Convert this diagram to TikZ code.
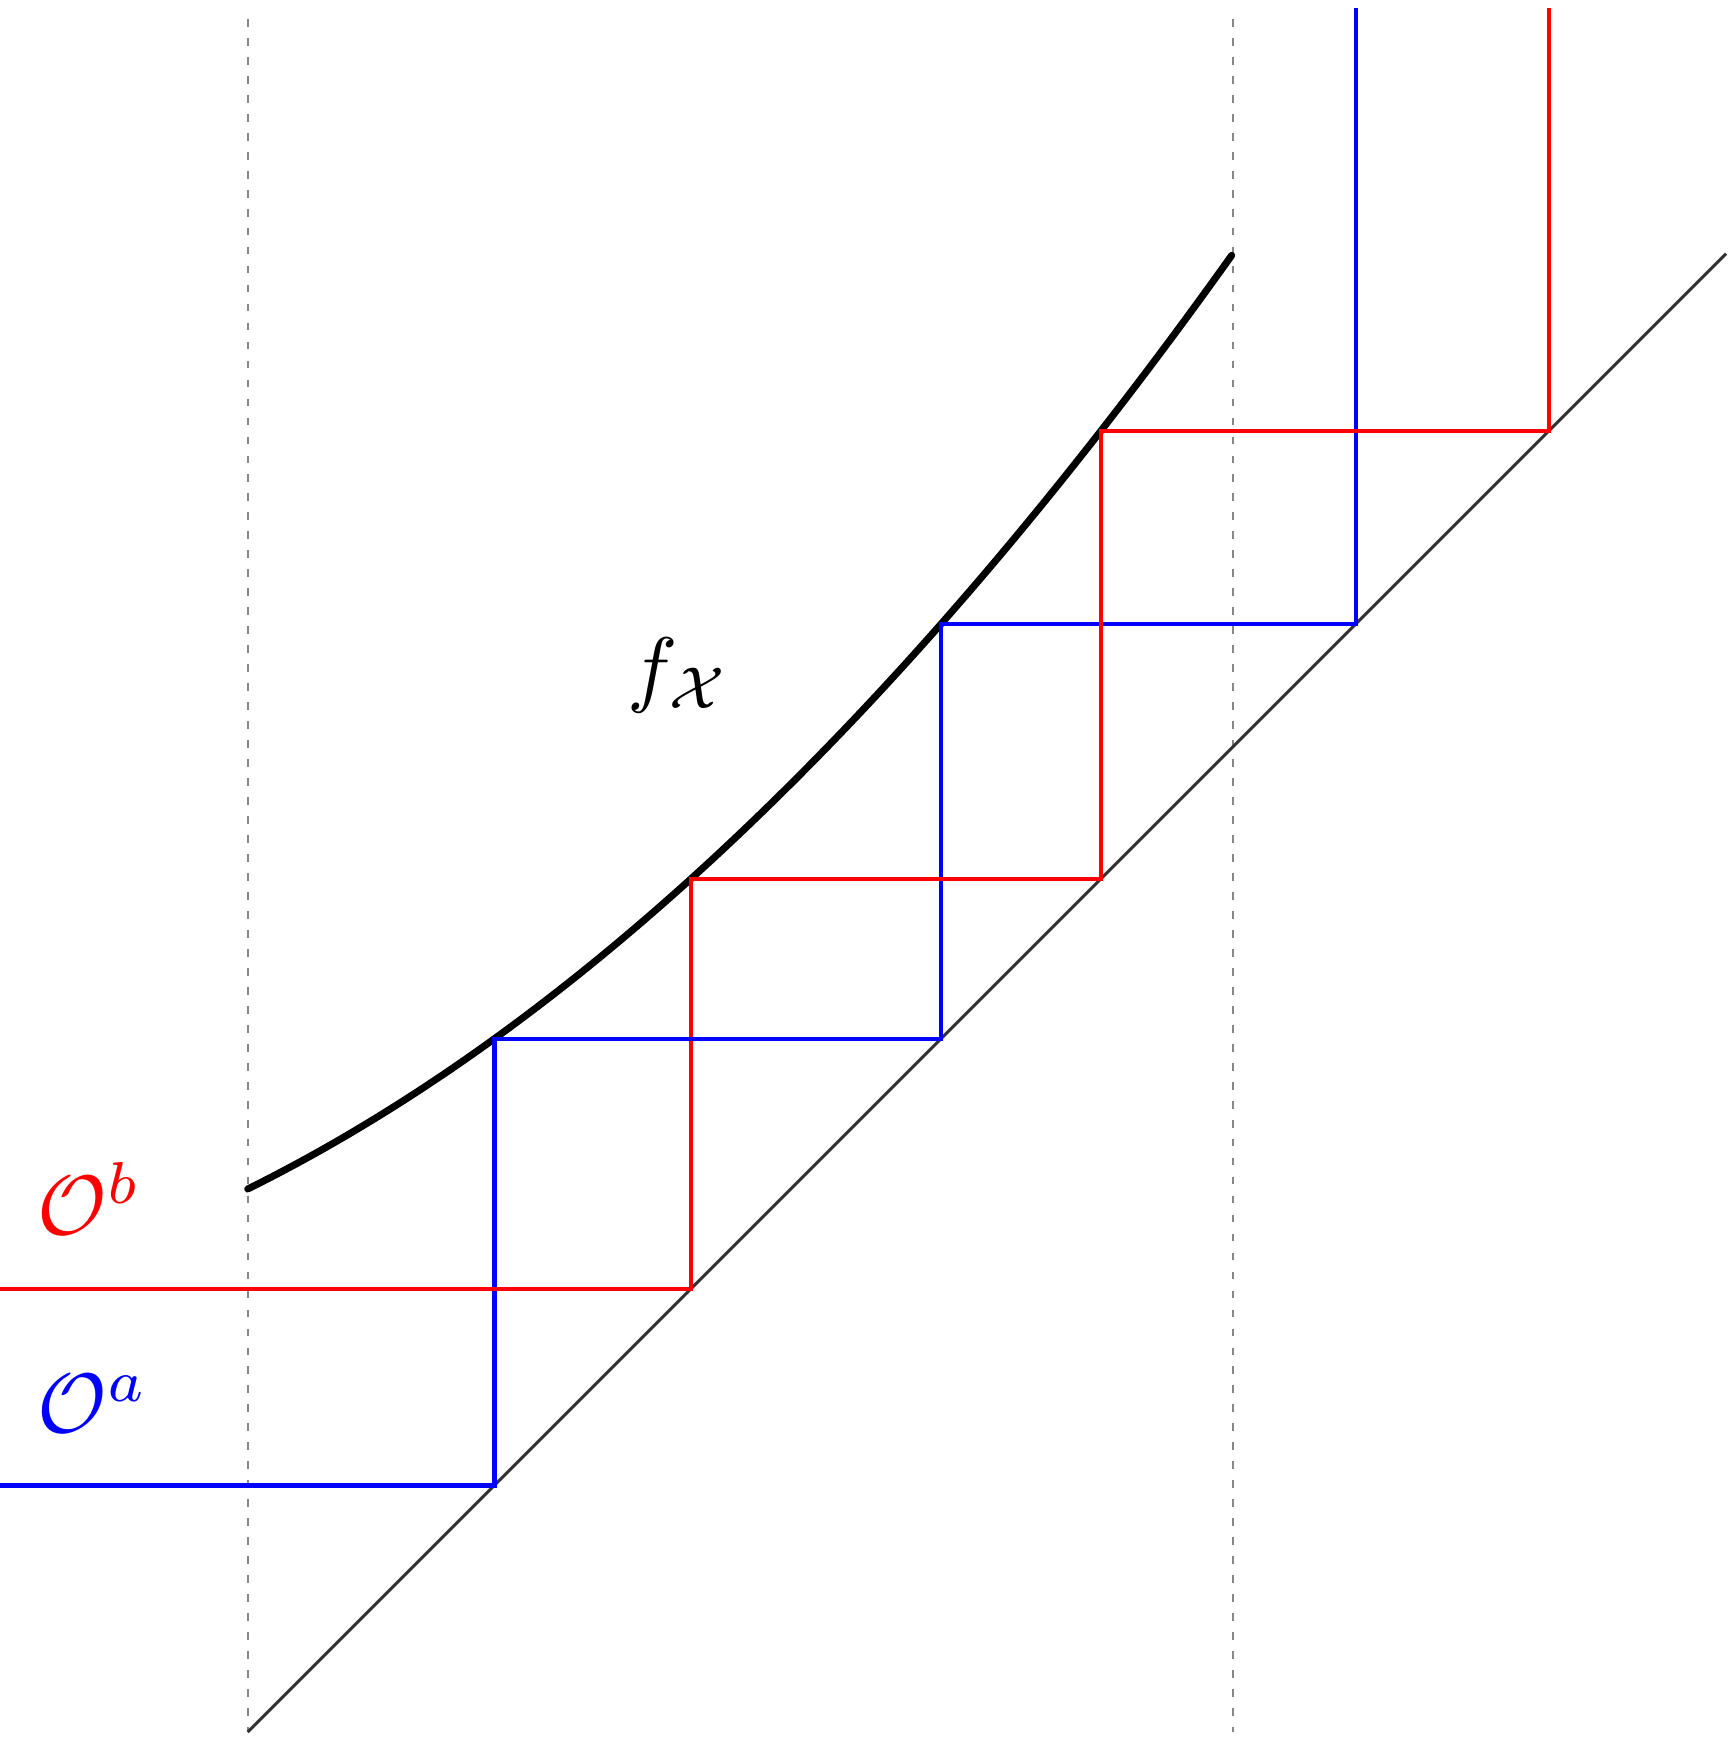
\documentclass[tikz,border=0pt]{standalone}
\begin{document}
\begin{tikzpicture}[x=0.1mm,y=-0.1mm,
  guide/.style={draw=black!47, line width=0.5pt, dash pattern=on 2.2pt off 3.2pt},
  diag/.style={draw=black!80, line width=0.85pt},
  fcurve/.style={draw=black, line width=2pt, line cap=round, line join=round},
  orbA/.style={draw=blue, line width=1.2pt},
  orbB/.style={draw=red, line width=1.2pt},
  lbl/.style={inner sep=0pt, scale=2.4, anchor=base west}]
\useasboundingbox (0,0) rectangle (1733,1742);
% guides
\coordinate (g1t) at (247.7,19);
\coordinate (g1b) at (247.7,1732);
\coordinate (g2t) at (1232.7,19);
\coordinate (g2b) at (1232.7,1732);
\draw[guide] (g1t) -- (g1b);
\draw[guide] (g2t) -- (g2b);
% diagonal
\coordinate (d0) at (247.7,1732);
\coordinate (d1) at (1726,253.7);
\draw[diag] (d0) -- (d1);
% curve
\draw[fcurve] plot[domain=0:984, samples=120, variable=\u]
  ({247.7+\u},{1732-(543+0.4956*\u+4.606*(\u/100)*(\u/100))});
% blue orbit
\coordinate (a0) at (0,1485.5);
\coordinate (a1) at (494.4,1485.5);
\coordinate (a2) at (494.4,1038.8);
\coordinate (a3) at (940.9,1038.8);
\coordinate (a4) at (940.9,624.1);
\coordinate (a5) at (1355.6,624.1);
\coordinate (a6) at (1355.6,8);
% red orbit
\coordinate (b0) at (0,1288.7);
\coordinate (b1) at (691,1288.7);
\coordinate (b2) at (691,878.8);
\coordinate (b3) at (1100.9,878.8);
\coordinate (b4) at (1100.9,430.9);
\coordinate (b5) at (1548.8,430.9);
\coordinate (b6) at (1548.8,8);
\draw[orbA] (a0) -- (a1) -- (a2) -- (a3) -- (a4) -- (a5) -- (a6);
\draw[orbB] (b0) -- (b1) -- (b2) -- (b3) -- (b4) -- (b5) -- (b6);
\draw[orbA] (a2) -- (a3);
% labels
\node[lbl, text=red] (lb) at (36,1234) {$\mathcal{O}^b$};
\node[lbl, text=blue] (la) at (36,1432) {$\mathcal{O}^a$};
\node[lbl, text=black] (lf) at (626,696) {$f_{\mathcal{X}}$};
\end{tikzpicture}
\end{document}
